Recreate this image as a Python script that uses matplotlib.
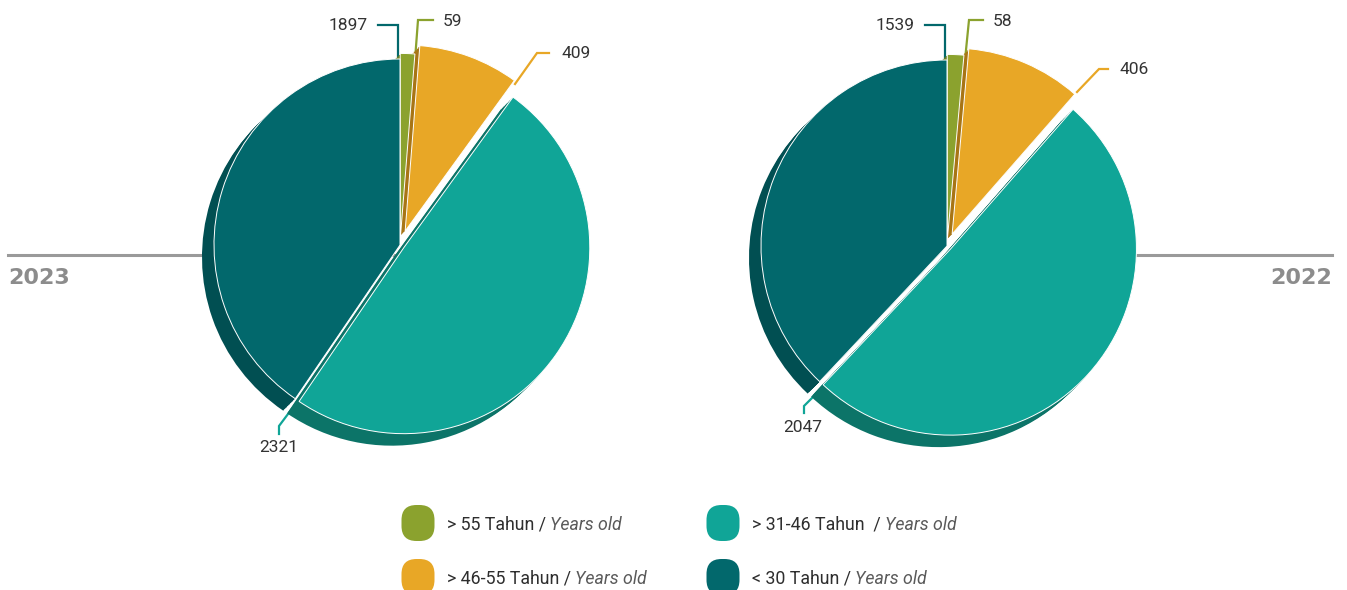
import matplotlib.pyplot as plt
from matplotlib.patches import FancyBboxPatch

plt.rcParams['font.family'] = ['Roboto', 'DejaVu Sans']

# data
categories = ['> 55 Tahun /', '> 46-55 Tahun /', '> 31-46 Tahun  /', '< 30 Tahun /']
years = ['2023', '2022']
values_2023 = [59, 409, 2321, 1897]
values_2022 = [58, 406, 2047, 1539]

face_colors = ['#8BA22E', '#E8A726', '#10A597', '#02686C']
side_colors = ['#6B7F22', '#A87515', '#0C7468', '#014F52']

W, H = 1347, 590
fig = plt.figure(figsize=(W / 100, H / 100), dpi=100)
bg = fig.add_axes([0, 0, 1, 1])
bg.set_xlim(0, W)
bg.set_ylim(H, 0)
bg.axis('off')

R = 186      # pie radius in px
L = 1.4      # axes half-extent in pie units


def draw_pie(cx, cy, values, explode):
    half = L * R
    ax = fig.add_axes([(cx - half) / W, (H - cy - half) / H, 2 * half / W, 2 * half / H])
    depth = 12 / R
    steps = 8
    # extruded side (pseudo 3D)
    for k in range(steps, 0, -1):
        d = depth * k / steps
        ax.pie(values, colors=side_colors, explode=explode, startangle=90,
               counterclock=False, center=(-d, -d), wedgeprops=dict(linewidth=0))
    ax.pie(values, colors=face_colors, explode=explode, startangle=90,
           counterclock=False, wedgeprops=dict(edgecolor='white', linewidth=0.7))
    ax.set_xlim(-L, L)
    ax.set_ylim(-L, L)
    ax.axis('off')
    return ax


# year rules + labels
bg.plot([8, 400], [255, 255], color='#9A9A9A', lw=2.2)
bg.plot([947, 1332], [255, 255], color='#9A9A9A', lw=2.2)
bg.text(8, 278, years[0], ha='left', va='center', fontsize=16, fontweight='bold',
        color='#8C8C8C', family='DejaVu Sans')
bg.text(1332, 278, years[1], ha='right', va='center', fontsize=16, fontweight='bold',
        color='#8C8C8C', family='DejaVu Sans')

# value labels with leader lines (text pos, alignment, line path)
labels_2023 = [
    ((443, 21), 'left', [(433, 20), (418, 20), (415, 60)]),
    ((561, 54), 'left', [(549, 53), (537, 53), (515, 84)]),
    ((279, 447), 'center', [(279, 434), (279, 426), (291, 410)]),
    ((368, 26), 'right', [(378, 25), (398, 25), (398, 62)]),
]
labels_2022 = [
    ((993, 21), 'left', [(983, 20), (969, 20), (965, 60)]),
    ((1119, 70), 'left', [(1108, 69), (1099, 69), (1077, 92)]),
    ((803, 427), 'center', [(804, 413), (804, 406), (828, 382)]),
    ((915, 26), 'right', [(925, 25), (945, 25), (945, 62)]),
]

for values, labs in [(values_2023, labels_2023), (values_2022, labels_2022)]:
    for v, c, (pos, ha, path) in zip(values, face_colors, labs):
        xs, ys = zip(*path)
        bg.plot(xs, ys, color=c, lw=1.6, solid_joinstyle='miter')
        bg.text(pos[0], pos[1], str(v), ha=ha, va='center', fontsize=12.5, color='#333333')

draw_pie(400, 245, values_2023, [0.03, 0.08, 0.025, 0])
draw_pie(947, 246, values_2022, [0.03, 0.07, 0.025, 0])

# legend
renderer = fig.canvas.get_renderer()
legend_pos = [(418, 523), (418, 577), (723, 523), (723, 577)]
for cat, c, (lx, ly) in zip(categories, face_colors, legend_pos):
    bg.add_patch(FancyBboxPatch((lx - 16.5, ly - 18), 33, 36,
                                boxstyle='round,pad=0,rounding_size=15',
                                facecolor=c, edgecolor='none'))
    t = bg.text(lx + 29, ly + 6.5, cat, ha='left', va='baseline', fontsize=12.8, color='#2E2E2E')
    bb = t.get_window_extent(renderer=renderer)
    x1 = bg.transData.inverted().transform((bb.x1, bb.y0))[0]
    bg.text(x1 + 4, ly + 6.5, 'Years old', ha='left', va='baseline', fontsize=12.8,
            style='italic', color='#5A5A5A')

fig.savefig('out.png', dpi=100)
